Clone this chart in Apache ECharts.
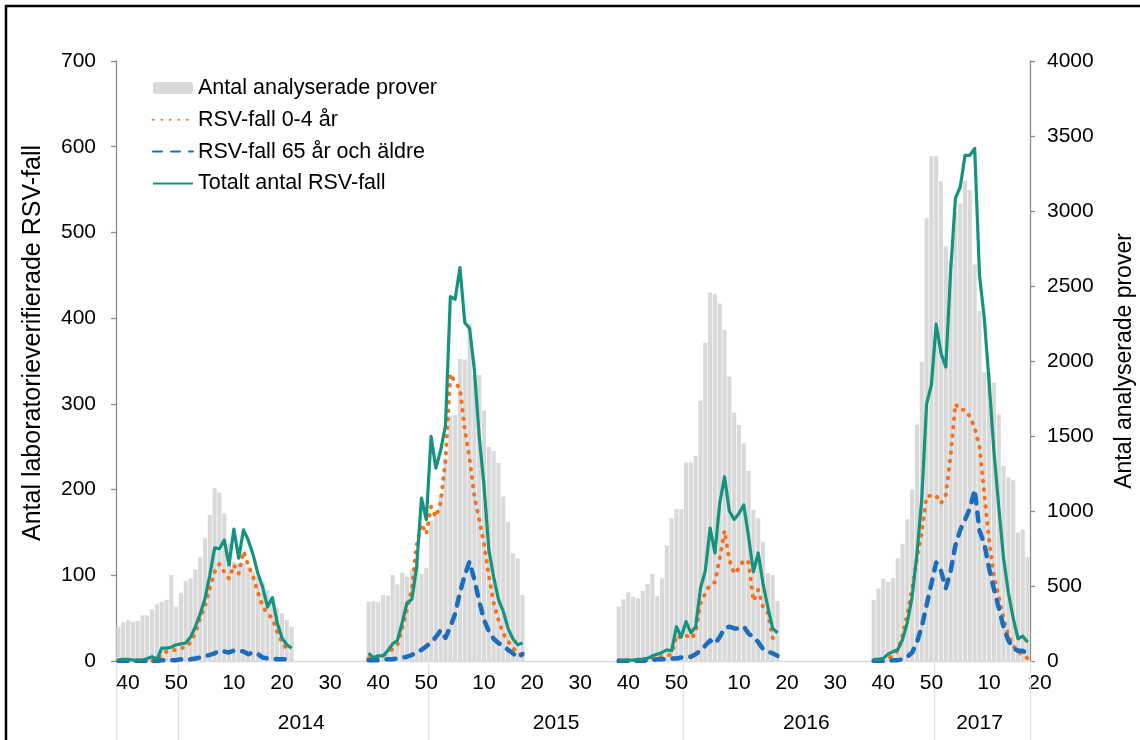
<!DOCTYPE html>
<html><head><meta charset="utf-8">
<script src="https://cdn.jsdelivr.net/npm/echarts@6/dist/echarts.min.js"></script>
<style>html,body{margin:0;padding:0;background:#fff}#c{width:1140px;height:740px}</style>
</head><body><div id="c"></div>
<script>
// ---- axis / category definitions ----
const firstWeek = [2013, 38];
const lastWeek = [2017, 18];
const weeksPerYear = {2013: 52, 2014: 52, 2015: 53, 2016: 52, 2017: 52};
const weekTickStep = 10;
const extraEndLabel = '20';
// year groups on the second axis row: label and first week (year-week) of the group
const yearLabels = ['2014', '2015', '2016', '2017'];
const yearGroupStarts = ['2013-51', '2014-51', '2015-52', '2016-51'];

// seasons: first week of each season
const seasonStarts = ['2013-38', '2014-38', '2015-38', '2016-38'];

// ---- data: Antal analyserade prover (right axis) ----
const prover1 = [229,258,273,262,267,304,304,344,378,396,407,573,362,455,535,551,611,691,818,973,1151,1122,985,784,662,651,651,629,596,562,529,473,418,351,318,273,229];
const prover2 = [395,400,395,440,435,573,511,589,562,607,660,580,620,935,962,1096,1351,1635,1640,2013,2010,2250,1907,1907,1669,1429,1400,1320,1096,929,718,684,440];
const prover3 = [362,411,458,429,418,467,513,580,433,551,771,951,1013,1011,1324,1324,1367,1735,2122,2455,2447,2384,2207,1895,1655,1573,1451,1267,1007,951,795,585,573,400];
const prover4 = [408,483,548,529,553,683,781,945,1143,1575,1995,2951,3365,3365,3197,2765,2660,2993,3050,3203,3138,2643,2333,1925,1925,1855,1645,1300,1225,1205,856,875,693];

// ---- RSV-fall 0-4 år ----
const fall04_1 = [0,0,0,0,0,0,0,0,1,8,11,12,13,15,16,22,33,50,64,85,104,113,104,96,112,102,128,112,98,80,63,55,50,34,22,14,12];
const fall04_2 = [3,2,4,6,10,14,19,38,60,85,135,160,148,180,168,185,235,335,325,318,270,236,192,165,137,100,68,48,32,23,15,10,6];
const fall04_3 = [1,1,1,1,1,2,3,3,4,5,6,8,30,27,30,26,33,67,79,89,92,120,152,118,102,108,118,115,70,83,63,56,27,25];
const fall04_4 = [1,1,2,3,6,12,30,55,85,120,150,192,193,193,184,194,240,300,293,293,285,272,250,195,140,100,75,50,30,18,10,8,3];

// ---- RSV-fall 65 år och äldre ----
const fall65_1 = [0,0,0,0,0,0,0,0,0,1,1,1,1,2,1,2,3,4,6,7,9,12,11,10,12,12,11,8,10,8,4,3,3,2,2,2,2];
const fall65_2 = [1,1,1,2,2,2,3,4,5,7,10,13,17,22,28,36,27,40,55,80,100,116,95,70,48,35,26,21,18,13,9,4,8];
const fall65_3 = [0,0,0,0,0,0,1,1,2,2,2,3,3,4,4,5,8,12,18,24,20,28,38,40,38,38,40,32,28,22,14,11,9,6];
const fall65_4 = [0,0,0,0,1,1,2,5,10,22,40,65,90,115,105,85,105,135,153,165,178,200,152,137,108,84,62,40,24,15,12,12,8];

// ---- Totalt antal RSV-fall ----
const total1 = [1,2,2,1,1,1,3,5,2,15,15,16,19,20,21,28,40,55,73,100,132,131,141,112,154,120,153,141,124,102,86,63,74,45,27,19,15];
const total2 = [9,4,6,6,12,20,24,45,68,72,110,190,165,262,225,246,275,425,422,459,395,388,340,262,205,130,98,72,58,38,26,19,21];
const total3 = [1,1,1,1,2,2,3,6,8,10,13,12,40,28,46,33,40,85,105,155,126,184,215,175,165,172,182,145,104,126,90,63,38,33];
const total4 = [2,2,3,8,11,13,25,45,75,125,189,300,322,393,359,343,455,540,553,590,590,598,450,400,325,245,180,120,80,50,26,29,22];

const seriesNames = ['Antal analyserade prover', 'RSV-fall 0-4 år', 'RSV-fall 65 år och äldre', 'Totalt antal RSV-fall'];
const yLeftName = 'Antal laboratorieverifierade RSV-fall';
const yRightName = 'Antal analyserade prover';

// ---- build categories ----
const categories = [];
{
  let y = firstWeek[0], w = firstWeek[1];
  while (true) {
    categories.push(y + '-' + w);
    if (y === lastWeek[0] && w === lastWeek[1]) break;
    w++;
    if (w > weeksPerYear[y]) { w = 1; y++; }
  }
}
const weekOf = c => +c.split('-')[1];
function spread(seasons) {
  const out = categories.map(() => null);
  seasons.forEach((arr, s) => {
    const start = categories.indexOf(seasonStarts[s]);
    arr.forEach((v, i) => { out[start + i] = v; });
  });
  return out;
}
const proverAll = spread([prover1, prover2, prover3, prover4]);
const fall04All = spread([fall04_1, fall04_2, fall04_3, fall04_4]);
const fall65All = spread([fall65_1, fall65_2, fall65_3, fall65_4]);
const totalAll = spread([total1, total2, total3, total4]);

const groupStartIdx = yearGroupStarts.map(k => categories.indexOf(k));
const boundarySet = new Set([0, ...groupStartIdx]);
const midMap = {};
groupStartIdx.forEach((s, g) => {
  const e = g + 1 < groupStartIdx.length ? groupStartIdx[g + 1] : categories.length;
  midMap[Math.floor((s + e - 1) / 2)] = yearLabels[g];
});

const FONT = '"Liberation Sans", Arial, sans-serif';
const GRID = {left: 116, right: 110, top: 61, bottom: 79, containLabel: false, outerBoundsMode: 'none'};
const noSymbol = {color: 'rgba(0,0,0,0)', borderWidth: 0, opacity: 0};
const chart = echarts.init(document.getElementById('c'));
chart.setOption({
  animation: false,
  backgroundColor: '#fff',
  textStyle: {fontFamily: FONT},
  grid: GRID,
  legend: {
    orient: 'vertical', left: 147, top: 72,
    itemWidth: 40, itemHeight: 12, itemGap: 9.8,
    textStyle: {fontSize: 21.5, color: '#000', fontFamily: FONT},
    data: [
      {name: seriesNames[0]},
      {name: seriesNames[1], itemStyle: noSymbol},
      {name: seriesNames[2], itemStyle: noSymbol},
      {name: seriesNames[3], itemStyle: noSymbol}
    ]
  },
  xAxis: [
    {
      type: 'category', data: categories, boundaryGap: true,
      axisLine: {lineStyle: {color: '#d9d9d9', width: 1.3}},
      axisTick: {show: false},
      axisLabel: {
        interval: (i, v) => weekOf(v) % weekTickStep === 0,
        formatter: v => String(weekOf(v)),
        fontSize: 21, color: '#000', margin: 12, fontFamily: FONT
      },
      splitLine: {show: false}
    },
    {
      type: 'category', data: categories, boundaryGap: true, position: 'bottom',
      axisLine: {show: false},
      axisTick: {show: true, interval: (i) => boundarySet.has(i), length: 79, lineStyle: {color: '#e3e3e3', width: 1.3}},
      axisLabel: {
        interval: (i) => midMap[i] !== undefined,
        formatter: (v, i) => midMap[i] || '',
        fontSize: 21, color: '#000', margin: 52, fontFamily: FONT
      },
      splitLine: {show: false}
    }
  ],
  yAxis: [
    {
      type: 'value', min: 0, max: 700, interval: 100,
      name: yLeftName, nameLocation: 'middle', nameGap: 70, nameRotate: 90,
      nameTextStyle: {fontSize: 25, color: '#000', fontFamily: FONT, padding: [0, 0, 0, 36]},
      axisLine: {show: true, lineStyle: {color: '#8c8c8c', width: 1.3}},
      axisTick: {show: true, length: 5, lineStyle: {color: '#8c8c8c', width: 1.3}},
      axisLabel: {fontSize: 21, color: '#000', margin: 20, fontFamily: FONT},
      splitLine: {show: false}
    },
    {
      type: 'value', min: 0, max: 4000, interval: 500, position: 'right',
      name: yRightName, nameLocation: 'middle', nameGap: 83, nameRotate: 90,
      nameTextStyle: {fontSize: 23, color: '#000', fontFamily: FONT},
      axisLine: {show: true, lineStyle: {color: '#8c8c8c', width: 1.3}},
      axisTick: {show: true, length: 5, lineStyle: {color: '#8c8c8c', width: 1.3}},
      axisLabel: {fontSize: 21, color: '#000', margin: 17, fontFamily: FONT, formatter: v => String(v)},
      splitLine: {show: false}
    }
  ],
  series: [
    {
      name: seriesNames[0], type: 'bar', yAxisIndex: 1, data: proverAll,
      barCategoryGap: '15%',
      itemStyle: {color: '#d9d9d9'}
    },
    {
      name: seriesNames[1], type: 'line', data: fall04All, symbol: 'none', connectNulls: false,
      lineStyle: {color: '#f7701d', width: 4, type: [0.5, 8], cap: 'round', join: 'round'},
      itemStyle: {color: '#f7701d'}
    },
    {
      name: seriesNames[2], type: 'line', data: fall65All, symbol: 'none', connectNulls: false,
      lineStyle: {color: '#1a6ebd', width: 4.5, type: [9, 9], cap: 'round', join: 'round'},
      itemStyle: {color: '#1a6ebd'}
    },
    {
      name: seriesNames[3], type: 'line', data: totalAll, symbol: 'none', connectNulls: false,
      lineStyle: {color: '#14937e', width: 3.2, join: 'round'},
      itemStyle: {color: '#14937e'}
    }
  ],
  graphic: [
    {type: 'rect', silent: true, shape: {x: 6, y: 6, width: 1300, height: 900},
     style: {fill: 'none', stroke: '#000', lineWidth: 2.5}},
    {type: 'text', silent: true, x: 1140 - GRID.right + 10, y: 740 - GRID.bottom + 22,
     style: {text: extraEndLabel, fontSize: 21, fill: '#000', fontFamily: FONT, align: 'center', verticalAlign: 'middle'}}
  ]
});
</script></body></html>
